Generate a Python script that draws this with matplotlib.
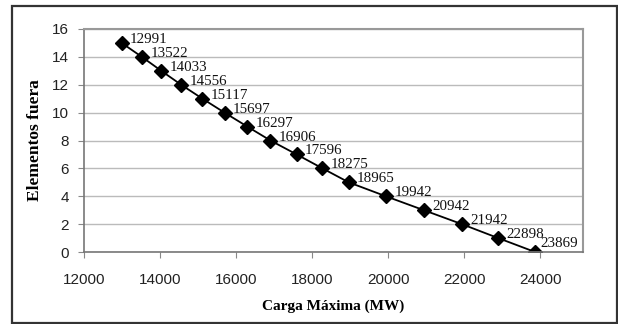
import matplotlib
matplotlib.use('Agg')
import matplotlib.pyplot as plt
from matplotlib.patches import Rectangle

# datos: carga maxima vs elementos fuera
carga = [12991, 13522, 14033, 14556, 15117, 15697, 16297, 16906, 17596,
         18275, 18965, 19942, 20942, 21942, 22898, 23869]
elementos = [15, 14, 13, 12, 11, 10, 9, 8, 7, 6, 5, 4, 3, 2, 1, 0]
xticks = [12000, 14000, 16000, 18000, 20000, 22000, 24000]
yticks = [0, 2, 4, 6, 8, 10, 12, 14, 16]

fig = plt.figure(figsize=(6.18, 3.24), dpi=100)
fig.patch.set_facecolor('white')

# marco exterior
marco = Rectangle((12 / 618, 1 / 324), 605 / 618, 317 / 324,
                  transform=fig.transFigure, fill=False,
                  edgecolor='#333333', linewidth=1.6)
fig.patches.append(marco)

ax = fig.add_axes([84 / 618, 1 - 252 / 324, 499 / 618, 223 / 324])

ax.plot(carga, elementos, color='black', linewidth=1.3, marker='D',
        markersize=6.8, markerfacecolor='black', markeredgecolor='black')

for i, (x, y) in enumerate(zip(carga, elementos)):
    # la ultima etiqueta queda algo mas arriba, junto al eje
    dy = 6 if i == len(carga) - 1 else 2.5
    dx = 4 if i == len(carga) - 1 else 6
    ax.annotate(str(x), (x, y), xytext=(dx, dy), textcoords='offset points',
                ha='left', va='center', fontsize=10.8,
                family='Liberation Serif', color='#111111',
                annotation_clip=False)

ax.set_xlim(12000, 25130)
ax.set_ylim(0, 16)
ax.set_xticks(xticks)
ax.set_yticks(yticks)
ax.tick_params(labelsize=11, colors='#222222', length=4, width=0.8)
ax.tick_params(axis='x', pad=11)
ax.tick_params(axis='y', pad=7)
for lab in ax.get_xticklabels() + ax.get_yticklabels():
    lab.set_family('Liberation Sans')
ax.tick_params(axis='both', color='#888888')

ax.yaxis.grid(True, color='#bbbbbb', linewidth=1)
ax.set_axisbelow(True)
for side in ['top', 'right']:
    ax.spines[side].set_color('#999999')
    ax.spines[side].set_linewidth(1.5)
for side in ['left', 'bottom']:
    ax.spines[side].set_color('#777777')
    ax.spines[side].set_linewidth(1.2)

ax.set_xlabel('Carga Máxima (MW)', family='Liberation Serif',
              fontweight='bold', fontsize=11, labelpad=9)
ax.set_ylabel('Elementos fuera', family='Liberation Serif',
              fontweight='bold', fontsize=12.5, labelpad=6)

fig.savefig('out.png', dpi=100)
